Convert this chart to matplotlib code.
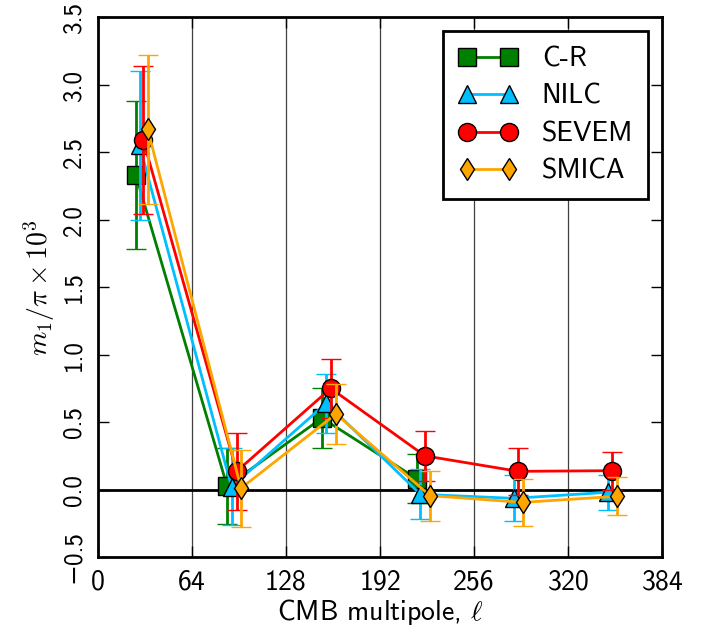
import matplotlib
matplotlib.use("Agg")
import matplotlib.pyplot as plt
from matplotlib.lines import Line2D

plt.rcParams['font.family'] = ['cmss10', 'DejaVu Sans']
plt.rcParams['mathtext.fontset'] = 'cm'
plt.rcParams['axes.unicode_minus'] = True

# Data
series = ["C-R", "NILC", "SEVEM", "SMICA"]
colors = ["green", "deepskyblue", "red", "orange"]
markers = ["s", "^", "o", "d"]
msizes = [13, 13, 13, 11.5]

cr_x = [26, 88, 152.5, 217]
cr_y = [2.33, 0.025, 0.53, 0.08]
cr_err = [0.55, 0.28, 0.22, 0.18]

nilc_x = [28.5, 91, 155.5, 219.5, 283, 347]
nilc_y = [2.55, 0.02, 0.64, -0.035, -0.065, -0.02]
nilc_err = [0.55, 0.285, 0.22, 0.185, 0.17, 0.13]

sevem_x = [31, 94.5, 158.5, 222.5, 286, 350]
sevem_y = [2.59, 0.135, 0.75, 0.25, 0.135, 0.14]
sevem_err = [0.55, 0.285, 0.22, 0.185, 0.175, 0.14]

smica_x = [34, 97.5, 162, 226, 289, 353]
smica_y = [2.67, 0.01, 0.56, -0.045, -0.095, -0.05]
smica_err = [0.55, 0.285, 0.22, 0.185, 0.175, 0.14]

xs = [cr_x, nilc_x, sevem_x, smica_x]
ys = [cr_y, nilc_y, sevem_y, smica_y]
es = [cr_err, nilc_err, sevem_err, smica_err]

xticks = [0, 64, 128, 192, 256, 320, 384]
yticks = [-0.5, 0.0, 0.5, 1.0, 1.5, 2.0, 2.5, 3.0, 3.5]

fig = plt.figure(figsize=(7.13, 6.41), dpi=100)
ax = fig.add_axes([0.137, 0.131, 0.792, 0.842])

for x in xticks[1:-1]:
    ax.axvline(x, color='0.25', lw=0.9, zorder=0)
ax.axhline(0, color='black', lw=2, zorder=1)

handles = []
for i, name in enumerate(series):
    ax.errorbar(xs[i], ys[i], yerr=es[i], color=colors[i], marker=markers[i],
                ms=msizes[i], mfc=colors[i], mec='black', mew=1.0, lw=2,
                elinewidth=2, capsize=7, capthick=2, zorder=2 + i)
    handles.append(Line2D([], [], color=colors[i], marker=markers[i], ms=msizes[i],
                          mfc=colors[i], mec='black', mew=1.0, lw=2, label=name))

ax.set_xlim(0, 384)
ax.set_ylim(-0.5, 3.5)
ax.set_xticks(xticks)
ax.set_yticks(yticks)
ax.set_yticklabels([f"{v:.1f}".replace('-', '\u2212') for v in yticks], rotation=90, va='center')
ax.tick_params(direction='in', length=8, width=1, top=True, right=True, pad=9)
ax.tick_params(axis='x', labelsize=20)
ax.tick_params(axis='y', labelsize=18)
for sp in ax.spines.values():
    sp.set_linewidth(2)

ax.set_xlabel(r"CMB multipole, $\ell$", fontsize=20, labelpad=2)
ax.set_ylabel(r"$m_1/\pi \times 10^3$", fontsize=20, labelpad=4)

leg = ax.legend(handles=handles, loc='upper right', numpoints=2, fontsize=20, fancybox=False,
                framealpha=1, edgecolor='black', borderpad=0.55, handlelength=2.1,
                handletextpad=0.9, labelspacing=0.45, borderaxespad=0.5)
leg.get_frame().set_linewidth(2)

fig.savefig("out.png", dpi=100)
